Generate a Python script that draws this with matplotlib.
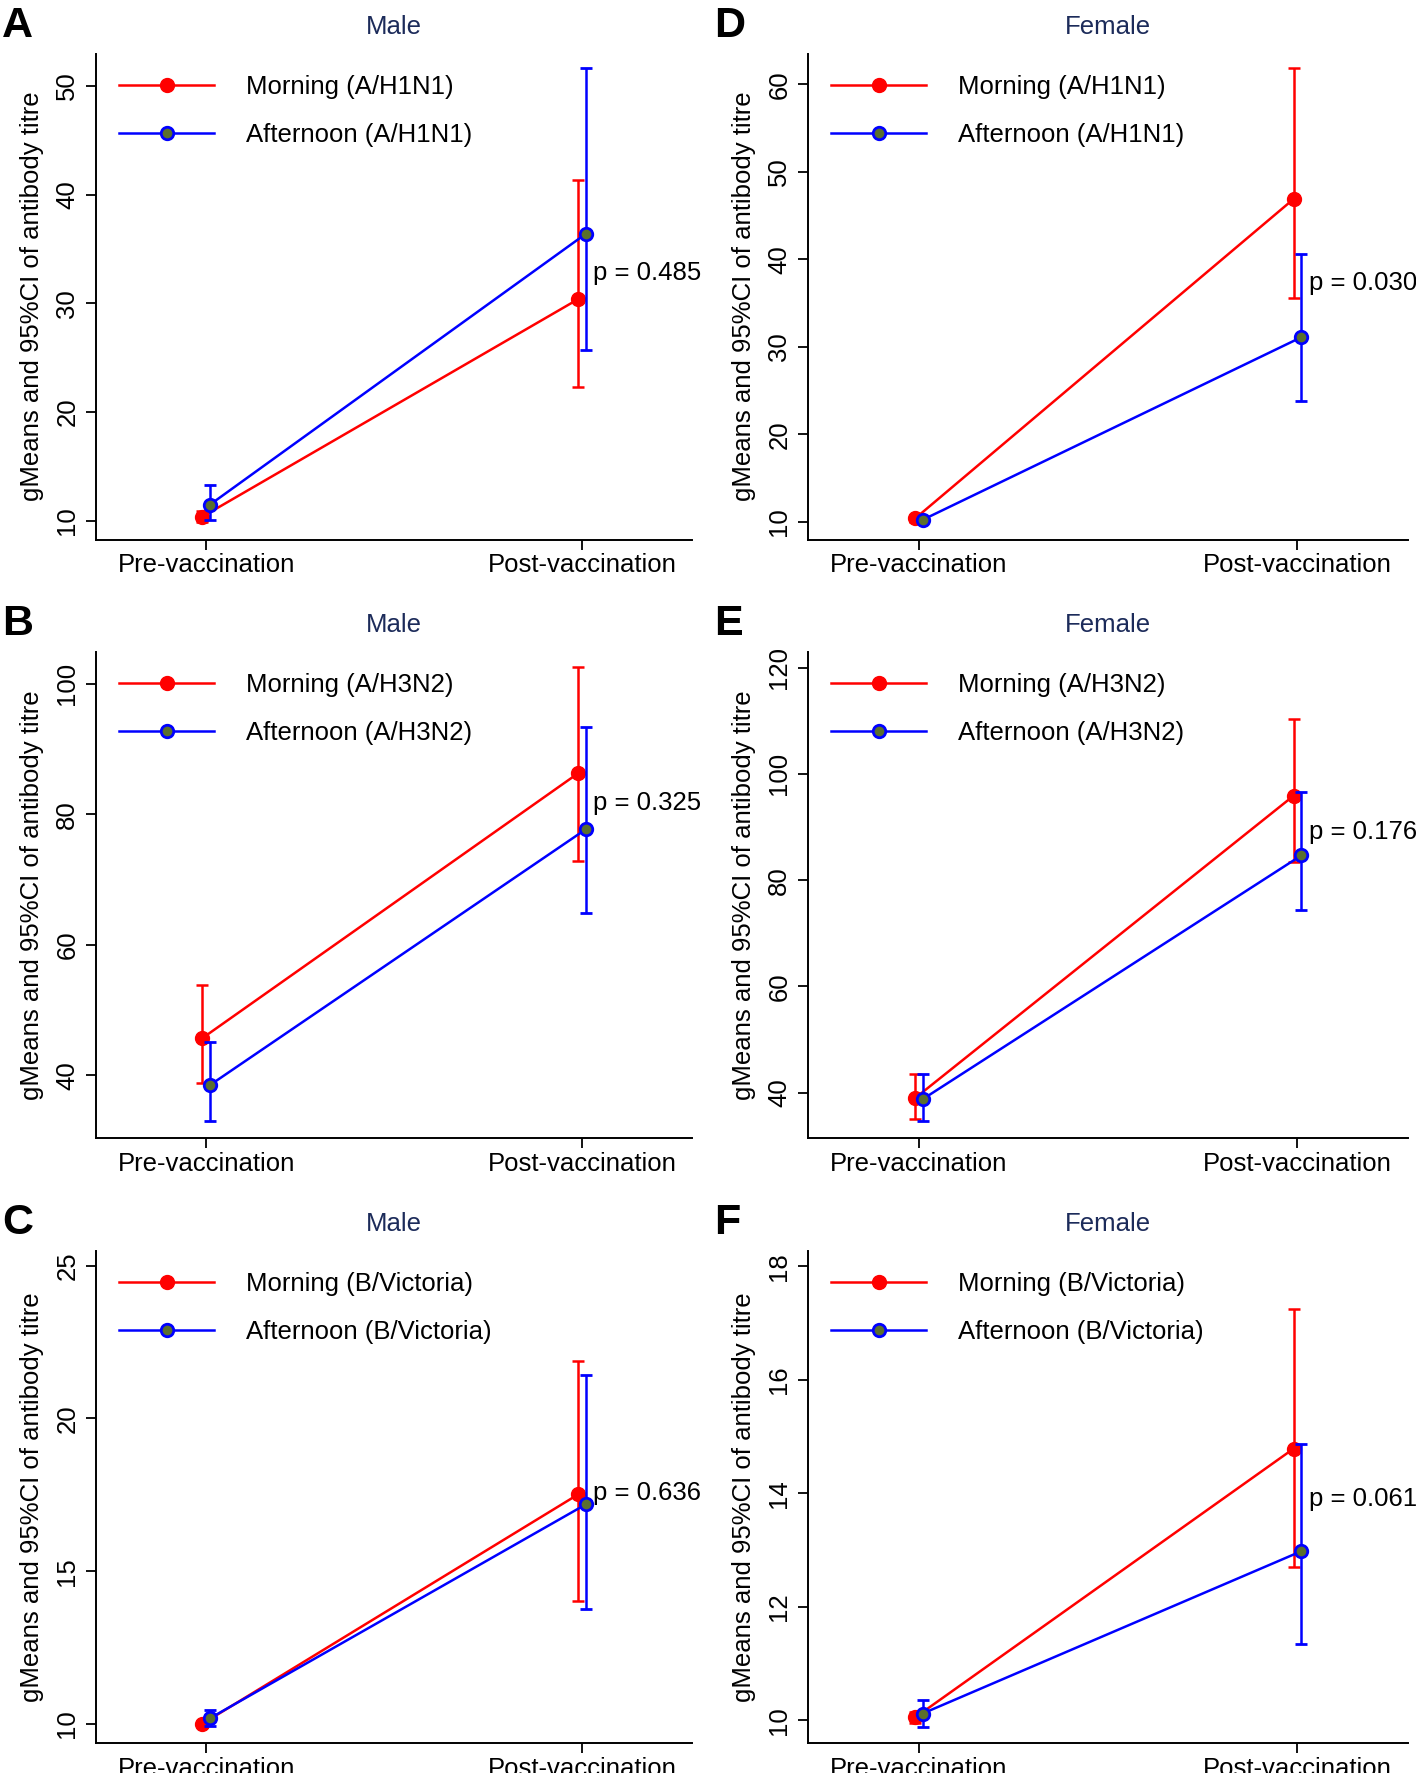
import matplotlib
matplotlib.use("Agg")
import matplotlib.pyplot as plt
import numpy as np

plt.rcParams['font.family'] = ['Liberation Sans', 'DejaVu Sans']

# categories
timepoints = ["Pre-vaccination", "Post-vaccination"]

# A - male, A/H1N1
a_morn = [10.4, 30.4]
a_morn_lo = [9.9, 22.3]
a_morn_hi = [10.9, 41.3]
a_aft = [11.5, 36.4]
a_aft_lo = [10.1, 25.7]
a_aft_hi = [13.3, 51.6]

# B - male, A/H3N2
b_morn = [45.7, 86.3]
b_morn_lo = [38.9, 72.8]
b_morn_hi = [53.9, 102.5]
b_aft = [38.5, 77.7]
b_aft_lo = [33.0, 64.9]
b_aft_hi = [45.1, 93.3]

# C - male, B/Victoria
c_morn = [10.0, 17.52]
c_morn_lo = [9.95, 14.01]
c_morn_hi = [10.05, 21.89]
c_aft = [10.18, 17.19]
c_aft_lo = [9.92, 13.77]
c_aft_hi = [10.46, 21.42]

# D - female, A/H1N1
d_morn = [10.4, 46.9]
d_morn_lo = [10.0, 35.6]
d_morn_hi = [10.8, 61.8]
d_aft = [10.25, 31.1]
d_aft_lo = [10.0, 23.8]
d_aft_hi = [10.5, 40.6]

# E - female, A/H3N2
e_morn = [39.0, 95.9]
e_morn_lo = [35.1, 83.5]
e_morn_hi = [43.5, 110.3]
e_aft = [38.8, 84.65]
e_aft_lo = [34.7, 74.4]
e_aft_hi = [43.5, 96.6]

# F - female, B/Victoria
f_morn = [10.05, 14.79]
f_morn_lo = [9.95, 12.70]
f_morn_hi = [10.15, 17.25]
f_aft = [10.12, 12.98]
f_aft_lo = [9.89, 11.34]
f_aft_hi = [10.35, 14.87]

p_values = ["0.485", "0.325", "0.636", "0.030", "0.176", "0.061"]
p_label_y = [32.8, 81.7, 17.55, 37.3, 89.0, 13.9]
strains = ["A/H1N1", "A/H3N2", "B/Victoria", "A/H1N1", "A/H3N2", "B/Victoria"]
sexes = ["Male", "Male", "Male", "Female", "Female", "Female"]
letters = ["A", "B", "C", "D", "E", "F"]

panels = [
    (a_morn, a_morn_lo, a_morn_hi, a_aft, a_aft_lo, a_aft_hi),
    (b_morn, b_morn_lo, b_morn_hi, b_aft, b_aft_lo, b_aft_hi),
    (c_morn, c_morn_lo, c_morn_hi, c_aft, c_aft_lo, c_aft_hi),
    (d_morn, d_morn_lo, d_morn_hi, d_aft, d_aft_lo, d_aft_hi),
    (e_morn, e_morn_lo, e_morn_hi, e_aft, e_aft_lo, e_aft_hi),
    (f_morn, f_morn_lo, f_morn_hi, f_aft, f_aft_lo, f_aft_hi),
]

# layout (pixels) and axis settings
W, H = 1416, 1773
col_x = [(96, 692), (808, 1408)]
row_y = [(53.6, 539.5), (651.6, 1138), (1250.6, 1743)]
ylims = [(8.3, 52.95), (30.4, 104.9), (9.37, 25.5), (8.0, 63.5), (31.5, 123), (9.6, 18.28)]
yticks = [np.arange(10, 51, 10), np.arange(40, 101, 20), np.arange(10, 26, 5),
          np.arange(10, 61, 10), np.arange(40, 121, 20), np.arange(10, 19, 2)]

red = "#ff0000"
blue = "#0000ff"
olive = "#5b6f2e"
navy = "#1c2b5a"
fs = 18.5

fig = plt.figure(figsize=(W / 100, H / 100), dpi=100)

for i, (m, mlo, mhi, a, alo, ahi) in enumerate(panels):
    col = i // 3
    row = i % 3
    x0, x1 = col_x[col]
    y0, y1 = row_y[row]
    ax = fig.add_axes([x0 / W, 1 - y1 / H, (x1 - x0) / W, (y1 - y0) / H])

    x = np.arange(len(timepoints))
    xm = x - 0.01
    xa = x + 0.01
    m = np.array(m)
    a = np.array(a)

    ax.errorbar(xm, m, yerr=[m - np.array(mlo), np.array(mhi) - m], color=red, lw=1.8,
                elinewidth=1.8, capsize=4, capthick=1.8, marker='o', ms=10,
                mfc=red, mec=red, label="Morning (%s)" % strains[i], zorder=2)
    ax.errorbar(xa, a, yerr=[a - np.array(alo), np.array(ahi) - a], color=blue, lw=1.8,
                elinewidth=1.8, capsize=4, capthick=1.8, marker='o', ms=9,
                mfc=olive, mec=blue, mew=2, label="Afternoon (%s)" % strains[i], zorder=3)

    ax.text(1.03, p_label_y[i], "p = " + p_values[i], fontsize=fs, ha='left', va='center',
            clip_on=False)

    ax.set_xlim(-0.293, 1.292)
    ax.set_ylim(*ylims[i])
    ax.set_xticks(x)
    ax.set_xticklabels(timepoints, fontsize=fs)
    ax.set_yticks(yticks[i])
    ax.set_yticklabels([str(v) for v in yticks[i]], fontsize=fs, rotation=90, va='center')
    ax.tick_params(axis='x', length=7, width=1.3, pad=3)
    ax.tick_params(axis='y', length=7, width=1.3, pad=5)
    for s in ['top', 'right']:
        ax.spines[s].set_visible(False)
    for s in ['left', 'bottom']:
        ax.spines[s].set_linewidth(1.4)

    ax.set_ylabel("gMeans and 95%CI of antibody titre", fontsize=fs, labelpad=8)
    ax.set_title(sexes[i], fontsize=fs, color=navy, pad=14)

    h, l = ax.get_legend_handles_labels()
    h = [hh[0] for hh in h]
    ax.legend(h, l, loc='upper left', bbox_to_anchor=(0.0, 1.003), frameon=False, fontsize=fs,
              handlelength=3.7, handletextpad=1.25, labelspacing=0.92, borderaxespad=0.5)

    fig.text((x0 - 94) / W, 1 - (y0 - 48) / H, letters[i], fontsize=31, fontweight='bold',
             ha='left', va='top')

fig.savefig("out.png", dpi=100)
